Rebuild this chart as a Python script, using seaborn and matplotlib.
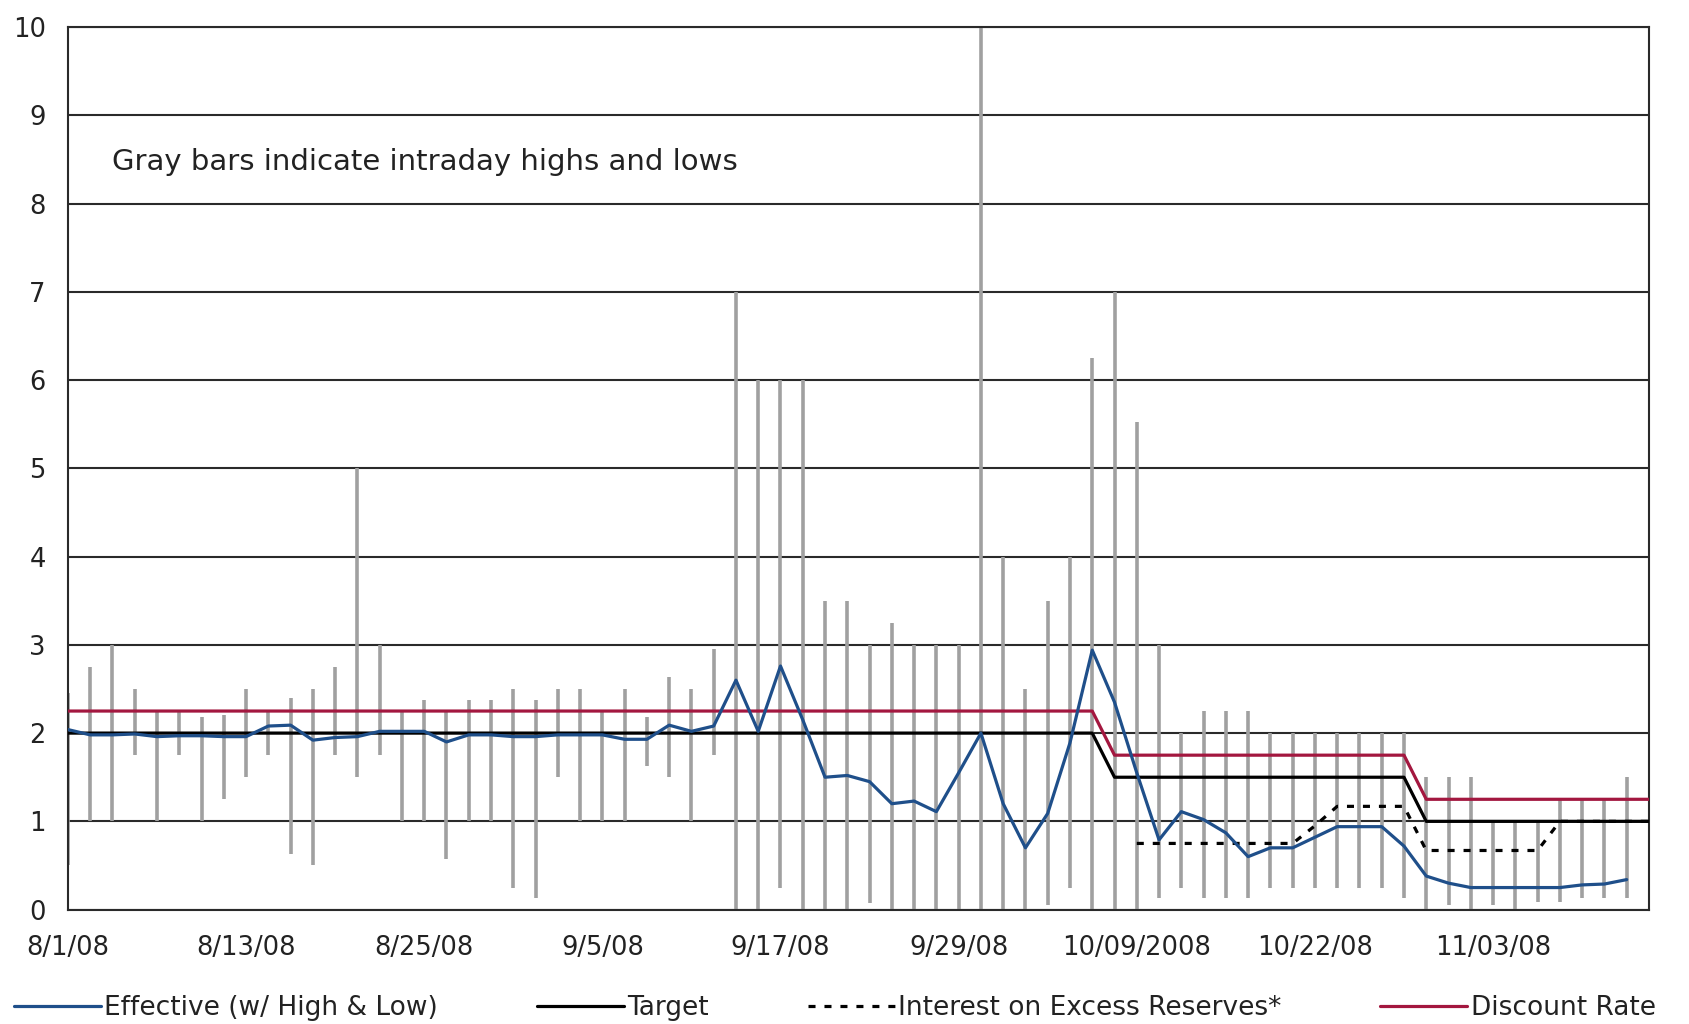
import matplotlib
matplotlib.use('Agg')
import matplotlib.pyplot as plt
import seaborn as sns
import numpy as np
import pandas as pd

# business days 8/1/08 .. mid Nov 08 (72 categories, labels every 8 days)
tick_labels = ['8/1/08', '8/13/08', '8/25/08', '9/5/08', '9/17/08',
               '9/29/08', '10/09/2008', '10/22/08', '11/03/08']

effective = [2.04, 1.98, 1.98, 1.99, 1.96, 1.97, 1.97, 1.96, 1.96, 2.08,
             2.09, 1.92, 1.95, 1.96, 2.02, 2.02, 2.02, 1.90, 1.98, 1.98,
             1.96, 1.96, 1.98, 1.98, 1.98, 1.93, 1.93, 2.09, 2.02, 2.08,
             2.60, 2.02, 2.76, 2.15, 1.50, 1.52, 1.45, 1.20, 1.23, 1.11,
             1.55, 2.00, 1.20, 0.70, 1.09, 1.89, 2.94, 2.35, 1.55, 0.79,
             1.11, 1.02, 0.87, 0.60, 0.70, 0.70, 0.82, 0.94, 0.94, 0.94,
             0.72, 0.38, 0.30, 0.25, 0.25, 0.25, 0.25, 0.25, 0.28, 0.29,
             0.34, np.nan]

high = [2.45, 2.75, 3.0, 2.5, 2.25, 2.25, 2.18, 2.2, 2.5, 2.25,
        2.4, 2.5, 2.75, 5.0, 3.0, 2.25, 2.38, 2.25, 2.38, 2.38,
        2.5, 2.38, 2.5, 2.5, 2.25, 2.5, 2.18, 2.63, 2.5, 2.95,
        7.0, 6.0, 6.0, 6.0, 3.5, 3.5, 3.0, 3.25, 3.0, 3.0,
        3.0, 10.0, 4.0, 2.5, 3.5, 4.0, 6.25, 7.0, 5.52, 3.0,
        2.0, 2.25, 2.25, 2.25, 2.0, 2.0, 2.0, 2.0, 2.0, 2.0,
        2.0, 1.5, 1.5, 1.5, 1.0, 1.0, 1.0, 1.25, 1.25, 1.25,
        1.5, np.nan]

low = [0.5, 1.0, 1.0, 1.75, 1.0, 1.75, 1.0, 1.25, 1.5, 1.75,
       0.63, 0.5, 1.75, 1.5, 1.75, 1.0, 1.0, 0.57, 1.0, 1.0,
       0.25, 0.13, 1.5, 1.0, 1.0, 1.0, 1.63, 1.5, 1.0, 1.75,
       0.0, 0.0, 0.25, 0.0, 0.0, 0.0, 0.07, 0.0, 0.0, 0.0,
       0.0, 0.0, 0.0, 0.0, 0.05, 0.25, 0.0, 0.0, 0.0, 0.13,
       0.25, 0.13, 0.13, 0.13, 0.25, 0.25, 0.25, 0.25, 0.25, 0.25,
       0.13, 0.0, 0.05, 0.0, 0.05, 0.0, 0.09, 0.09, 0.13, 0.13,
       0.13, np.nan]

target = [2.0] * 47 + [1.5] * 14 + [1.0] * 11
discount = [2.25] * 47 + [1.75] * 14 + [1.25] * 11
ioer = [np.nan] * 48 + [0.75] * 8 + [0.95] + [1.17] * 4 + [0.67] * 6 + [1.0] * 5

df = pd.DataFrame({'day': np.arange(len(target)), 'effective': effective,
                   'high': high, 'low': low, 'target': target,
                   'discount': discount, 'ioer': ioer})

sns.set_style('white')
plt.rcParams['font.family'] = ['DejaVu Sans']

fig, ax = plt.subplots(figsize=(16.9, 10.24), dpi=100)
fig.subplots_adjust(left=0.0402, right=0.9757, top=0.9736, bottom=0.1117)

# horizontal grid
for v in range(0, 11):
    ax.axhline(v, color='#2a2a2a', lw=1.5, zorder=1)

# intraday high/low bars
hl = df.dropna(subset=['high'])
ax.vlines(hl['day'], hl['low'], hl['high'], color='#a0a0a0', lw=2.6, zorder=2)

lw = 2.3
sns.lineplot(data=df, x='day', y='effective', color='#1f4f8a', lw=lw, ax=ax,
             label='Effective (w/ High & Low)', zorder=4)
sns.lineplot(data=df, x='day', y='target', color='black', lw=lw, ax=ax,
             label='Target', zorder=3)
sns.lineplot(data=df, x='day', y='ioer', color='black', lw=lw, ax=ax,
             label='Interest on Excess Reserves*', zorder=3,
             linestyle=(0, (2.2, 2.8)))
sns.lineplot(data=df, x='day', y='discount', color='#a3173f', lw=lw, ax=ax,
             label='Discount Rate', zorder=3)

ax.set_xlim(0, len(target) - 1)
ax.set_ylim(0, 10)
ax.set_yticks(range(0, 11))
ax.set_xticks(np.arange(0, 65, 8))
ax.set_xticklabels(tick_labels)
ax.set_xlabel('')
ax.set_ylabel('')
ax.tick_params(axis='both', direction='out', length=9, width=1.5,
               color='#2a2a2a', labelsize=18.5, labelcolor='#222222')
ax.tick_params(axis='y', pad=7)
ax.tick_params(axis='x', pad=9)
for s in ax.spines.values():
    s.set_color('#2a2a2a')
    s.set_linewidth(1.5)

ax.text(2.0, 8.47, 'Gray bars indicate intraday highs and lows',
        fontsize=21, color='#222222', va='center', ha='left')

ax.get_legend().remove()
handles, labels = ax.get_legend_handles_labels()
fig.legend(handles, labels, loc='center left', ncol=4,
           bbox_to_anchor=(14 / 1690, 1 - 1008 / 1024), frameon=False,
           borderpad=0, borderaxespad=0, handlelength=3.3,
           handletextpad=0.12, columnspacing=3.75,
           prop={'size': 19})
for t in fig.legends[0].get_texts():
    t.set_color('#222222')

plt.savefig('out.png', dpi=100)
